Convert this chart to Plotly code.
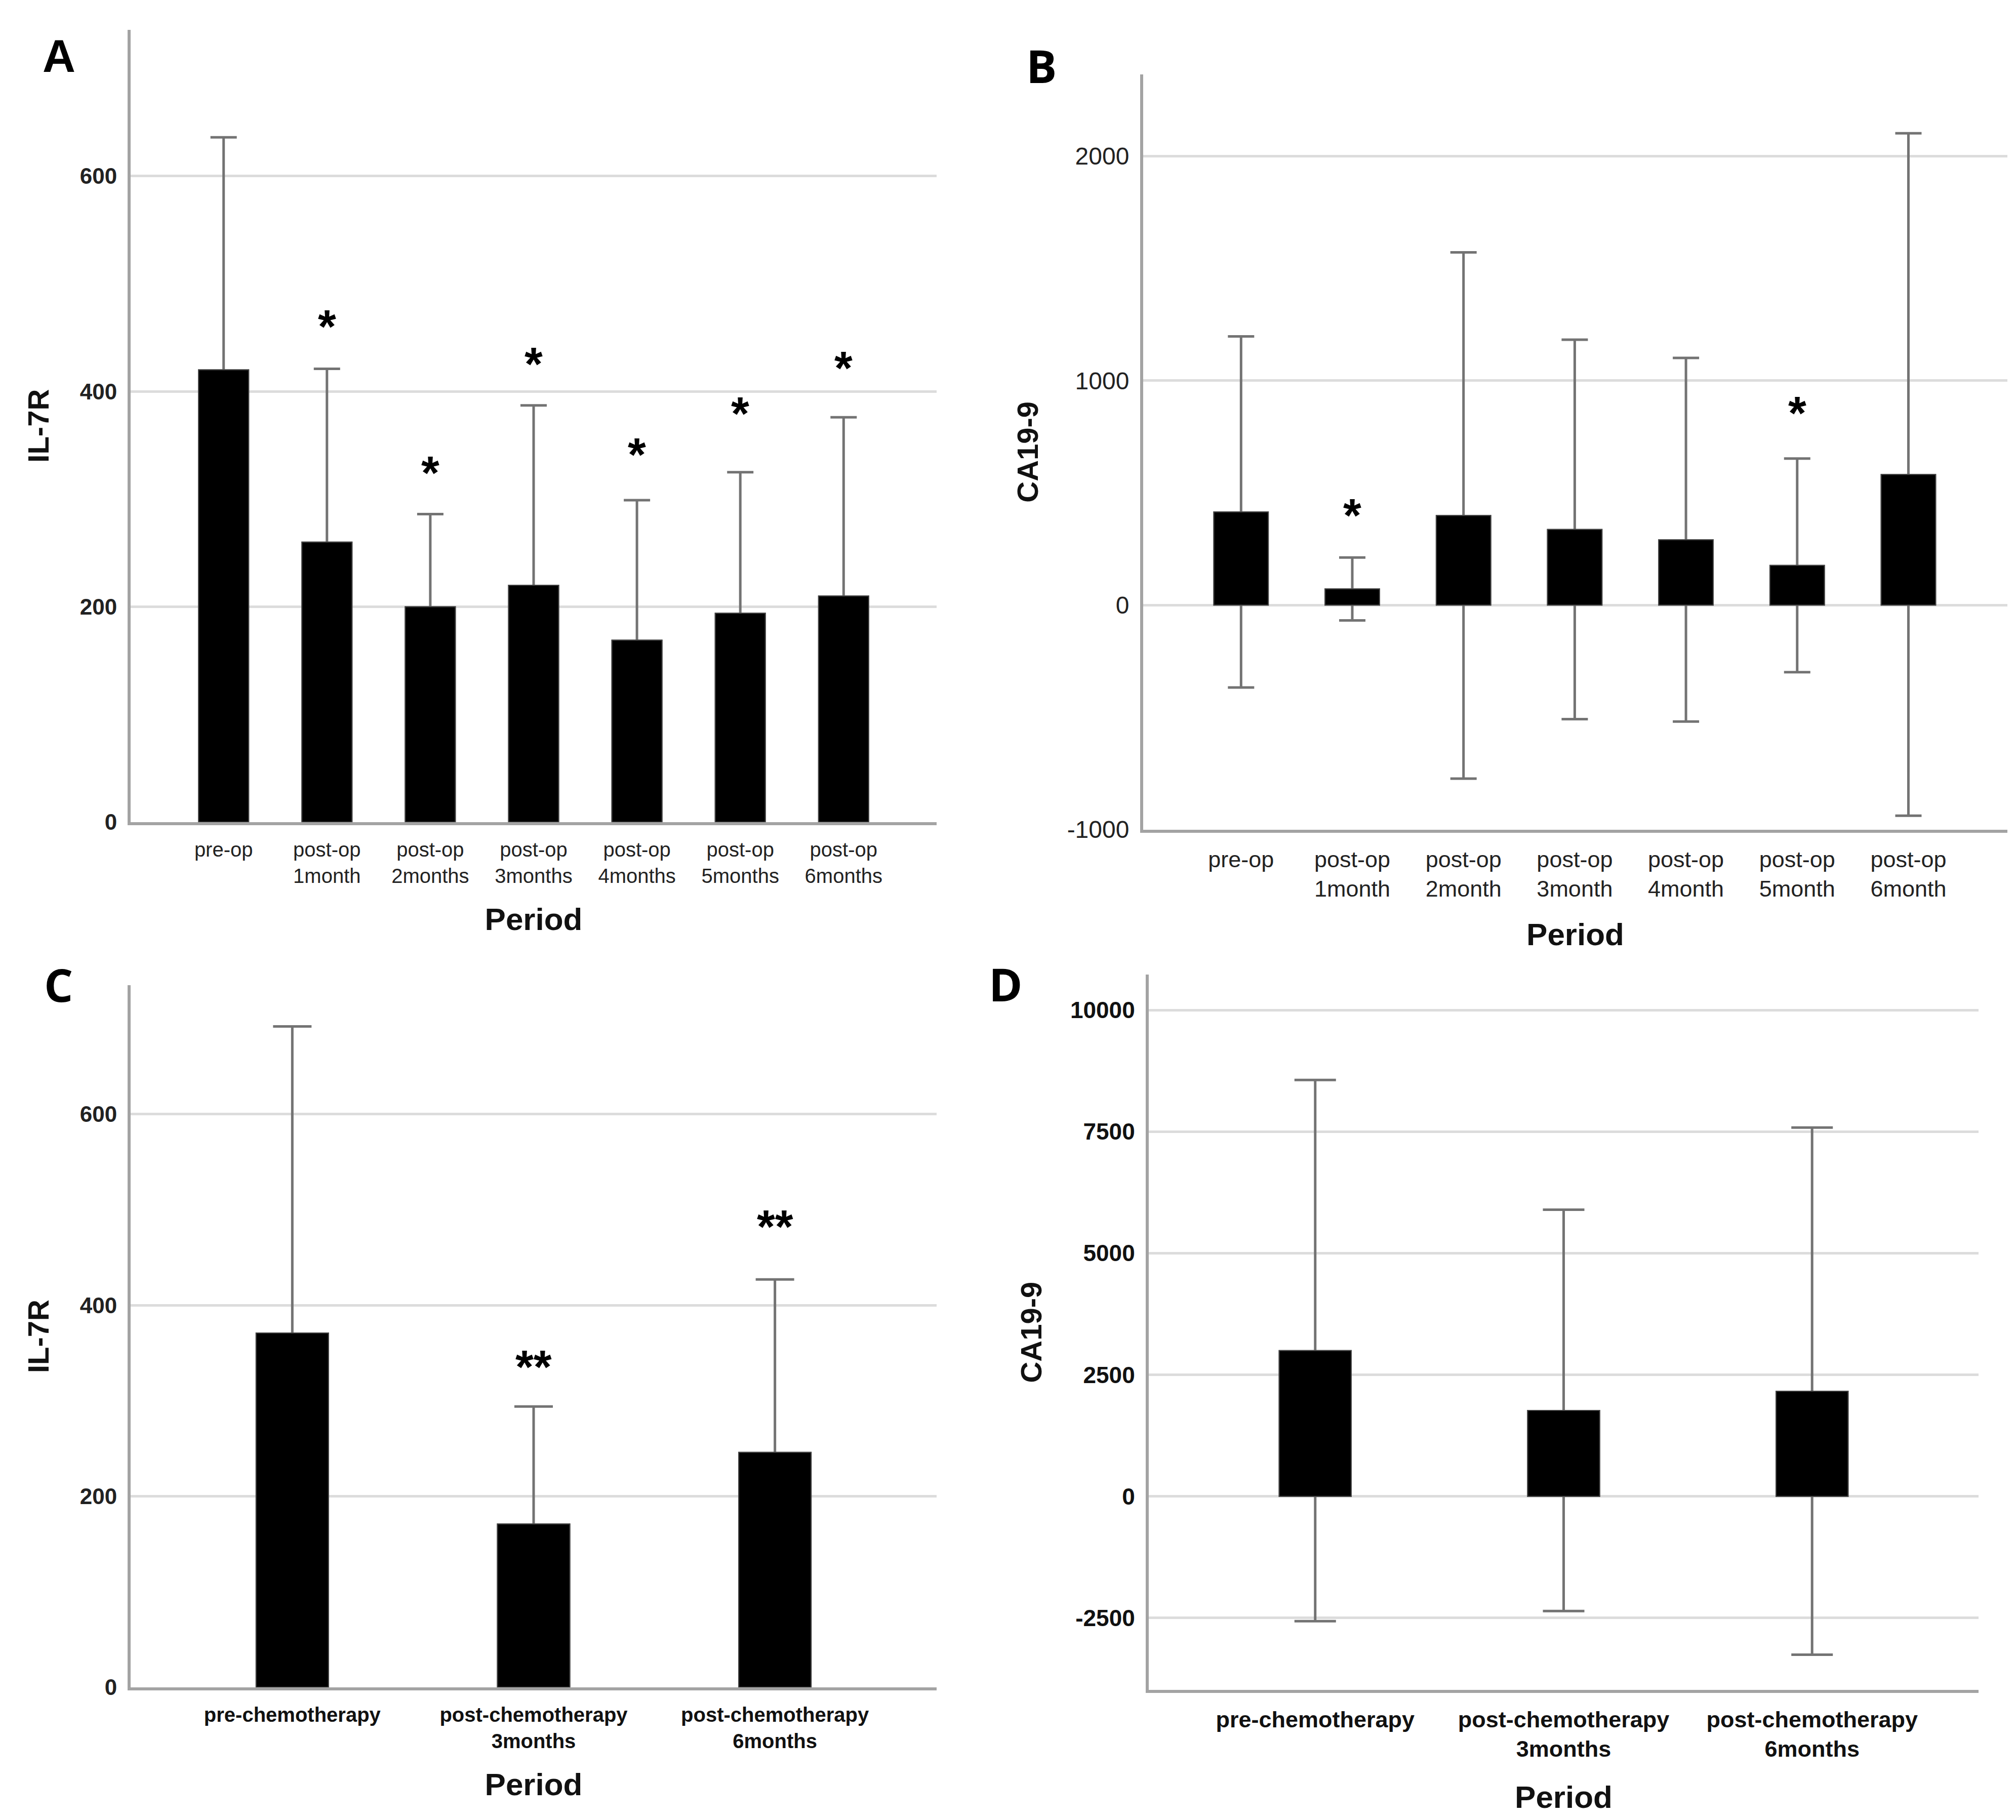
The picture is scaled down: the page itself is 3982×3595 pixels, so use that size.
import plotly.graph_objects as go
from plotly.subplots import make_subplots

# ---- panel A: IL-7R after surgery
a_periods = ['pre-op', 'post-op<br>1month', 'post-op<br>2months', 'post-op<br>3months',
             'post-op<br>4months', 'post-op<br>5months', 'post-op<br>6months']
a_mean = [420, 260, 200, 220, 169, 194, 210]
a_sd = [216, 161, 86, 167, 130, 131, 166]
a_star_y = [None, 468, 332, 433, 349, 387, 429]
a_star = ['', '*', '*', '*', '*', '*', '*']

# ---- panel B: CA19-9 after surgery
b_periods = ['pre-op', 'post-op<br>1month', 'post-op<br>2month', 'post-op<br>3month',
             'post-op<br>4month', 'post-op<br>5month', 'post-op<br>6month']
b_mean = [415, 72, 399, 337, 291, 177, 582]
b_sd = [782, 140, 1172, 845, 810, 476, 1520]
b_star_y = [None, 435, None, None, None, 891, None]
b_star = ['', '*', '', '', '', '*', '']

# ---- panel C: IL-7R around chemotherapy
c_periods = ['pre-chemotherapy', 'post-chemotherapy<br>3months', 'post-chemotherapy<br>6months']
c_mean = [371, 171, 246]
c_sd = [321, 123, 181]
c_star_y = [None, 344, 491]
c_star = ['', '**', '**']

# ---- panel D: CA19-9 around chemotherapy
d_periods = ['pre-chemotherapy', 'post-chemotherapy<br>3months', 'post-chemotherapy<br>6months']
d_mean = [2998, 1767, 2163]
d_sd = [5564, 4126, 5420]

a_ticks = [0, 200, 400, 600]
b_ticks = [-1000, 0, 1000, 2000]
c_ticks = [0, 200, 400, 600]
d_ticks = [-2500, 0, 2500, 5000, 7500, 10000]

W, H = 3982, 3595
NARROW = 'Liberation Sans Narrow, Arial Narrow, Liberation Sans, Arial'
SANS = 'Liberation Sans, Arial'
AXIS_COL = '#a3a3a3'
GRID_COL = '#dcdcdc'
ERR_COL = '#737373'

fig = make_subplots(rows=2, cols=2)

panels = [
    dict(r=1, c=1, x=a_periods, y=a_mean, e=a_sd, w=0.485, cap=26, sy=a_star_y, st=a_star),
    dict(r=1, c=2, x=b_periods, y=b_mean, e=b_sd, w=0.49, cap=26, sy=b_star_y, st=b_star),
    dict(r=2, c=1, x=c_periods, y=c_mean, e=c_sd, w=0.30, cap=38, sy=c_star_y, st=c_star),
    dict(r=2, c=2, x=d_periods, y=d_mean, e=d_sd, w=0.29, cap=41, sy=None, st=None),
]

for p in panels:
    # first copy carries the error bars, second copy hides the part inside the bar
    fig.add_trace(go.Bar(x=p['x'], y=p['y'], width=p['w'],
                         marker=dict(color='black', line=dict(color='#444', width=2)),
                         error_y=dict(type='data', array=p['e'], visible=True,
                                      color=ERR_COL, thickness=5, width=p['cap']),
                         showlegend=False),
                  row=p['r'], col=p['c'])
    fig.add_trace(go.Bar(x=p['x'], y=p['y'], width=p['w'],
                         marker=dict(color='black', line=dict(color='#444', width=2)),
                         showlegend=False, hoverinfo='skip'),
                  row=p['r'], col=p['c'])

# significance stars
axes_ref = {(1, 1): ('x', 'y'), (1, 2): ('x2', 'y2'), (2, 1): ('x3', 'y3')}
for p in panels:
    if p['sy'] is None:
        continue
    xr, yr = axes_ref[(p['r'], p['c'])]
    for cat, yy, s in zip(p['x'], p['sy'], p['st']):
        if yy is None:
            continue
        fig.add_annotation(x=cat, y=yy, xref=xr, yref=yr, text='<b>' + s + '</b>', showarrow=False,
                           yanchor='middle', yshift=-16,
                           font=dict(family=SANS, size=92, color='black'))

fig.update_layout(barmode='overlay', width=W, height=H,
                  margin=dict(l=0, r=0, t=0, b=0),
                  paper_bgcolor='white', plot_bgcolor='white')

# domains
fig.update_layout(
    xaxis=dict(domain=[250 / W, 1842 / W]),
    yaxis=dict(domain=[1 - 1628 / H, 1 - 51 / H]),
    xaxis2=dict(domain=[2250 / W, 3957 / W]),
    yaxis2=dict(domain=[1 - 1643 / H, 1 - 140 / H]),
    xaxis3=dict(domain=[250 / W, 1842 / W]),
    yaxis3=dict(domain=[1 - 3350 / H, 1 - 1953 / H]),
    xaxis4=dict(domain=[2261 / W, 3900 / W]),
    yaxis4=dict(domain=[1 - 3355 / H, 1 - 1932 / H]),
)

xcfg = [
    ('xaxis', [-0.9, 6.9], dict(family=NARROW, size=40, color='#222'), 45),
    ('xaxis2', [-0.88, 6.89], dict(family=SANS, size=45, color='#222'), 45),
    ('xaxis3', [-0.67, 2.67], dict(family=NARROW, size=40, color='#111'), 45),
    ('xaxis4', [-0.67, 2.67], dict(family=SANS, size=45, color='#111'), 50),
]
xbold = {'xaxis': False, 'xaxis2': False, 'xaxis3': True, 'xaxis4': True}
for name, rng, tf, so in xcfg:
    ax = fig.layout[name]
    cats = {'xaxis': a_periods, 'xaxis2': b_periods, 'xaxis3': c_periods, 'xaxis4': d_periods}[name]
    txt = ['<b>' + c + '</b>' if xbold[name] else c for c in cats]
    ax.update(type='category', range=rng, showline=True, linecolor=AXIS_COL, linewidth=6,
              showgrid=False, ticks='', tickfont=tf, tickvals=cats, ticktext=txt,
              ticklabelstandoff=14,
              title=dict(text='<b>Period</b>', standoff=so,
                         font=dict(family=SANS, size=62, color='#111')))

ycfg = [
    ('yaxis', [0, 736], a_ticks, dict(family=NARROW, size=44, color='#222'), True, '<b>IL-7R</b>', 44),
    ('yaxis2', [-1000, 2364], b_ticks, dict(family=SANS, size=48, color='#222'), False, '<b>CA19-9</b>', 40),
    ('yaxis3', [0, 735], c_ticks, dict(family=NARROW, size=44, color='#222'), True, '<b>IL-7R</b>', 44),
    ('yaxis4', [-3978, 10724], d_ticks, dict(family=SANS, size=46, color='#111'), True, '<b>CA19-9</b>', 40),
]
for name, rng, tv, tf, bold, title, so in ycfg:
    ax = fig.layout[name]
    lab = [str(v) for v in tv]
    if bold:
        lab = ['<b>' + s + '</b>' for s in lab]
    ax.update(range=rng, showline=True, linecolor=AXIS_COL, linewidth=6,
              showgrid=True, gridcolor=GRID_COL, gridwidth=5, zeroline=False,
              ticks='', tickvals=tv, ticktext=lab, tickfont=tf, ticklabelstandoff=12,
              title=dict(text=title, standoff=so,
                         font=dict(family=SANS, size=58, color='#111')))

# panel letters
for letter, lx, ly, fam in [('A', 108, 104, SANS), ('B', 2049, 122, 'Open Sans, Liberation Sans'),
                            ('C', 107, 1951, 'Open Sans, Liberation Sans'),
                            ('D', 1978, 1950, 'Open Sans, Liberation Sans')]:
    fig.add_annotation(x=lx / W, y=1 - ly / H, xref='paper', yref='paper', text='<b>' + letter + '</b>',
                       showarrow=False, xanchor='center', yanchor='middle',
                       font=dict(family=fam, size=90, color='black'))

fig.write_html("out.html")
